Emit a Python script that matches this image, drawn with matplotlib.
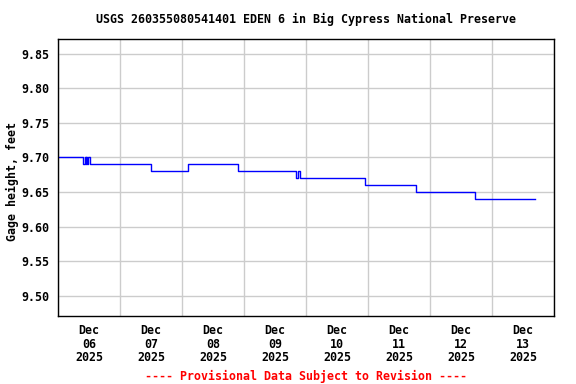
import matplotlib
matplotlib.use("Agg")
import matplotlib.pyplot as plt
import matplotlib.dates as mdates
import pandas as pd

title = "USGS 260355080541401 EDEN 6 in Big Cypress National Preserve"
ylabel = "Gage height, feet"
footer = "---- Provisional Data Subject to Revision ----"

# step-change times and gage height values (held until next time)
change_times = [
    "2025-12-06 00:00", "2025-12-06 09:45", "2025-12-06 10:30", "2025-12-06 10:45",
    "2025-12-06 11:00", "2025-12-06 11:15", "2025-12-06 11:30", "2025-12-06 12:15",
    "2025-12-07 12:00", "2025-12-08 02:30", "2025-12-08 21:30", "2025-12-09 20:15",
    "2025-12-09 20:45", "2025-12-09 21:30", "2025-12-10 23:00", "2025-12-11 18:30",
    "2025-12-12 17:30", "2025-12-13 16:45",
]
gage_values = [
    9.70, 9.69, 9.70, 9.69,
    9.70, 9.69, 9.70, 9.69,
    9.68, 9.69, 9.68, 9.67,
    9.68, 9.67, 9.66, 9.65,
    9.64, 9.64,
]
y_ticks = [9.50, 9.55, 9.60, 9.65, 9.70, 9.75, 9.80, 9.85]
x_start = "2025-12-06"
x_end = "2025-12-14"

t = pd.to_datetime(change_times)

fig = plt.figure(figsize=(5.76, 3.84), dpi=100)
ax = fig.add_axes([58/576, 1-316/384, (554-58)/576, (316-39)/384])

ax.plot(t, gage_values, drawstyle="steps-post", color="#0000ff", lw=1.0)

font = dict(family="DejaVu Sans Mono", weight="bold", size=8.4)

ax.set_xlim(pd.Timestamp(x_start), pd.Timestamp(x_end))
ax.set_ylim(9.4706, 9.8713)
ax.set_yticks(y_ticks)
ax.set_yticklabels([f"{v:.2f}" for v in y_ticks], fontdict=font)

ax.xaxis.set_major_locator(mdates.DayLocator())
ax.xaxis.set_major_formatter(plt.NullFormatter())
ax.xaxis.set_minor_locator(mdates.HourLocator(byhour=[12]))
ax.xaxis.set_minor_formatter(mdates.DateFormatter("%b\n%d\n%Y"))
ax.tick_params(axis="x", which="both", length=0)
ax.tick_params(axis="x", which="minor", pad=6)
ax.tick_params(axis="y", length=0, pad=6)

fig.canvas.draw()
for lab in ax.xaxis.get_minorticklabels():
    lab.set_fontfamily("DejaVu Sans Mono")
    lab.set_fontweight("bold")
    lab.set_fontsize(8.4)
    lab.set_linespacing(1.02)

ax.grid(True, which="major", color="#cccccc", lw=1)
ax.set_axisbelow(True)
for s in ax.spines.values():
    s.set_color("black")
    s.set_linewidth(1)

fig.text(306/576, 1-19/384, title, ha="center", va="center", **font)
fig.text(12/576, 1-182/384, ylabel, ha="center", va="center", rotation=90, **font)
fig.text(306/576, 1-376/384, footer, ha="center", va="center", color="red", **font)

fig.savefig("out.png", dpi=100)
